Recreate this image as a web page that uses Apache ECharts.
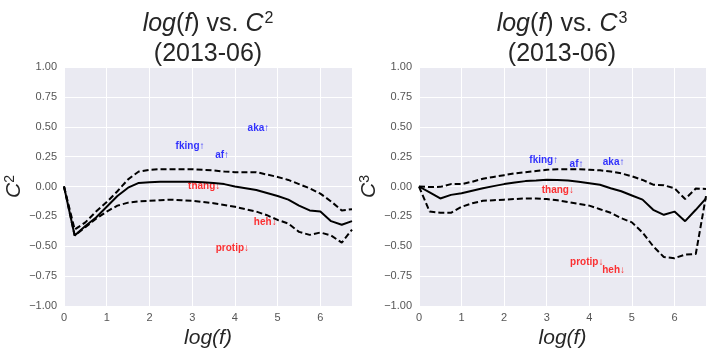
<!DOCTYPE html>
<html><head><meta charset="utf-8">
<script src="https://cdn.jsdelivr.net/npm/echarts@6/dist/echarts.min.js"></script>
<style>html,body{margin:0;padding:0;background:#fff}#c{width:713px;height:356px}</style>
</head><body><div id="c"></div>
<script>
const xs = [0,0.25,0.5,0.75,1,1.25,1.5,1.75,2,2.25,2.5,2.75,3,3.25,3.5,3.75,4,4.25,4.5,4.75,5,5.25,5.5,5.75,6,6.25,6.5,6.74];
const c2Mean  = [0,-0.41,-0.33,-0.26,-0.17,-0.08,-0.01,0.03,0.035,0.04,0.04,0.04,0.04,0.035,0.03,0.02,0.0,-0.015,-0.03,-0.055,-0.08,-0.11,-0.16,-0.2,-0.21,-0.29,-0.32,-0.29];
const c2Upper = [0,-0.36,-0.3,-0.21,-0.13,-0.04,0.06,0.125,0.14,0.145,0.145,0.145,0.145,0.14,0.135,0.125,0.12,0.12,0.12,0.1,0.08,0.055,0.02,-0.015,-0.06,-0.125,-0.2,-0.19];
const c2Lower = [0,-0.41,-0.34,-0.27,-0.21,-0.16,-0.135,-0.125,-0.12,-0.115,-0.11,-0.115,-0.12,-0.13,-0.14,-0.155,-0.17,-0.19,-0.21,-0.24,-0.28,-0.31,-0.38,-0.405,-0.385,-0.41,-0.47,-0.36];
const c3Mean  = [0,-0.05,-0.1,-0.07,-0.056,-0.035,-0.014,0.003,0.02,0.033,0.045,0.05,0.056,0.055,0.05,0.04,0.028,0.014,-0.014,-0.04,-0.075,-0.11,-0.195,-0.237,-0.21,-0.29,-0.195,-0.1];
const c3Upper = [0,-0.005,-0.003,0.02,0.02,0.04,0.065,0.08,0.095,0.11,0.12,0.13,0.14,0.145,0.145,0.145,0.14,0.135,0.125,0.11,0.085,0.055,0.015,0.01,-0.015,-0.105,-0.017,-0.02];
const c3Lower = [0,-0.21,-0.22,-0.22,-0.17,-0.14,-0.12,-0.115,-0.11,-0.105,-0.1,-0.1,-0.105,-0.115,-0.13,-0.145,-0.16,-0.19,-0.22,-0.265,-0.3,-0.385,-0.5,-0.59,-0.6,-0.57,-0.565,-0.08];

const c2Words = ['aka↑','fking↑','af↑','thang↓','heh↓','protip↓'];
const c2WX = [4.55,2.95,3.7,3.28,4.71,3.94];
const c2WY = [0.49,0.34,0.265,0.0,-0.3,-0.515];
const c2WC = ['blue','blue','blue','red','red','red'];
const c3Words = ['fking↑','af↑','aka↑','thang↓','protip↓','heh↓'];
const c3WX = [2.93,3.7,4.57,3.26,3.94,4.57];
const c3WY = [0.22,0.19,0.2,-0.03,-0.63,-0.7];
const c3WC = ['blue','blue','blue','red','red','red'];

const yTicks = [-1,-0.75,-0.5,-0.25,0,0.25,0.5,0.75,1];
const xMax = 6.74;
const FONT = 'Liberation Sans, Arial, sans-serif';

function pairs(y){ return xs.map((x,i)=>[x,y[i]]); }
function titleText(p){
  return '{i|log}{n|(}{i|f}{n|) vs. }{i|C}{sup|'+p+'}\n{n|(2013-06)}';
}
const titleRich = {
  i:{fontSize:25,fontStyle:'italic',fontWeight:'normal',fontFamily:FONT,color:'#262626',lineHeight:30},
  n:{fontSize:25,fontWeight:'normal',fontFamily:FONT,color:'#262626',lineHeight:30},
  sup:{fontSize:16,fontWeight:'normal',fontFamily:FONT,color:'#262626',verticalAlign:'top',lineHeight:18,padding:[2,0,0,1]}
};
const grids = [
  {left:64, top:67, width:288, height:239, show:true, backgroundColor:'#EAEAF2', borderWidth:0, outerBoundsMode:'none', containLabel:false},
  {left:419, top:67, width:287, height:239, show:true, backgroundColor:'#EAEAF2', borderWidth:0, outerBoundsMode:'none', containLabel:false}
];
function xAxis(gi){
  return {type:'value', gridIndex:gi, min:0, max:xMax, interval:1,
    name:'log(f)', nameLocation:'middle', nameGap:19,
    nameTextStyle:{fontSize:21, fontStyle:'italic', fontFamily:FONT, color:'#262626'},
    axisLine:{show:false}, axisTick:{show:false},
    axisLabel:{color:'#555', fontSize:11, fontFamily:FONT, margin:6, showMaxLabel:false,
      formatter:v=> (Math.abs(v-Math.round(v))<1e-6 ? String(Math.round(v)) : '')},
    splitLine:{show:true, lineStyle:{color:'#fff', width:1}}};
}
function yAxis(gi,p){
  return {type:'value', gridIndex:gi, min:-1, max:1, interval:0.25,
    name:'{i|C}{s|'+p+'}', nameLocation:'middle', nameGap:39, nameRotate:90,
    nameTextStyle:{rich:{i:{fontSize:21,fontStyle:'italic',fontFamily:FONT,color:'#262626',lineHeight:22},
                          s:{fontSize:14,fontFamily:FONT,color:'#262626',verticalAlign:'top',lineHeight:14}}},
    axisLine:{show:false}, axisTick:{show:false},
    axisLabel:{color:'#555', fontSize:11, fontFamily:FONT, margin:7,
      formatter:v=> v.toFixed(2).replace('-','\u2212')},
    splitLine:{show:true, lineStyle:{color:'#fff', width:1}}};
}
function lines(gi, mean, up, lo){
  const base = {type:'line', xAxisIndex:gi, yAxisIndex:gi, showSymbol:false, symbol:'none', animation:false, silent:true};
  return [
    Object.assign({}, base, {data:pairs(mean), lineStyle:{color:'#000', width:2}}),
    Object.assign({}, base, {data:pairs(up), lineStyle:{color:'#000', width:2, type:[6,3]}}),
    Object.assign({}, base, {data:pairs(lo), lineStyle:{color:'#000', width:2, type:[6,3]}})
  ];
}
function words(gi, w, x, y, c){
  return {type:'scatter', xAxisIndex:gi, yAxisIndex:gi, symbolSize:1, animation:false, silent:true,
    itemStyle:{color:'rgba(0,0,0,0)'},
    data:w.map((t,i)=>({value:[x[i],y[i]], label:{show:true, formatter:t, position:'inside',
      color:c[i], fontWeight:'bold', fontSize:10, fontFamily:FONT}}))};
}
const chart = echarts.init(document.getElementById('c'), null, {renderer:'canvas'});
chart.setOption({
  animation:false,
  backgroundColor:'#fff',
  title:[
    {text:titleText(2), left:208, top:9, textAlign:'center', padding:0, textStyle:{fontWeight:'normal', rich:titleRich}},
    {text:titleText(3), left:562, top:9, textAlign:'center', padding:0, textStyle:{fontWeight:'normal', rich:titleRich}}
  ],
  grid:grids,
  xAxis:[xAxis(0), xAxis(1)],
  yAxis:[yAxis(0,2), yAxis(1,3)],
  series:[].concat(lines(0,c2Mean,c2Upper,c2Lower), lines(1,c3Mean,c3Upper,c3Lower),
    [words(0,c2Words,c2WX,c2WY,c2WC), words(1,c3Words,c3WX,c3WY,c3WC)])
});
</script></body></html>
